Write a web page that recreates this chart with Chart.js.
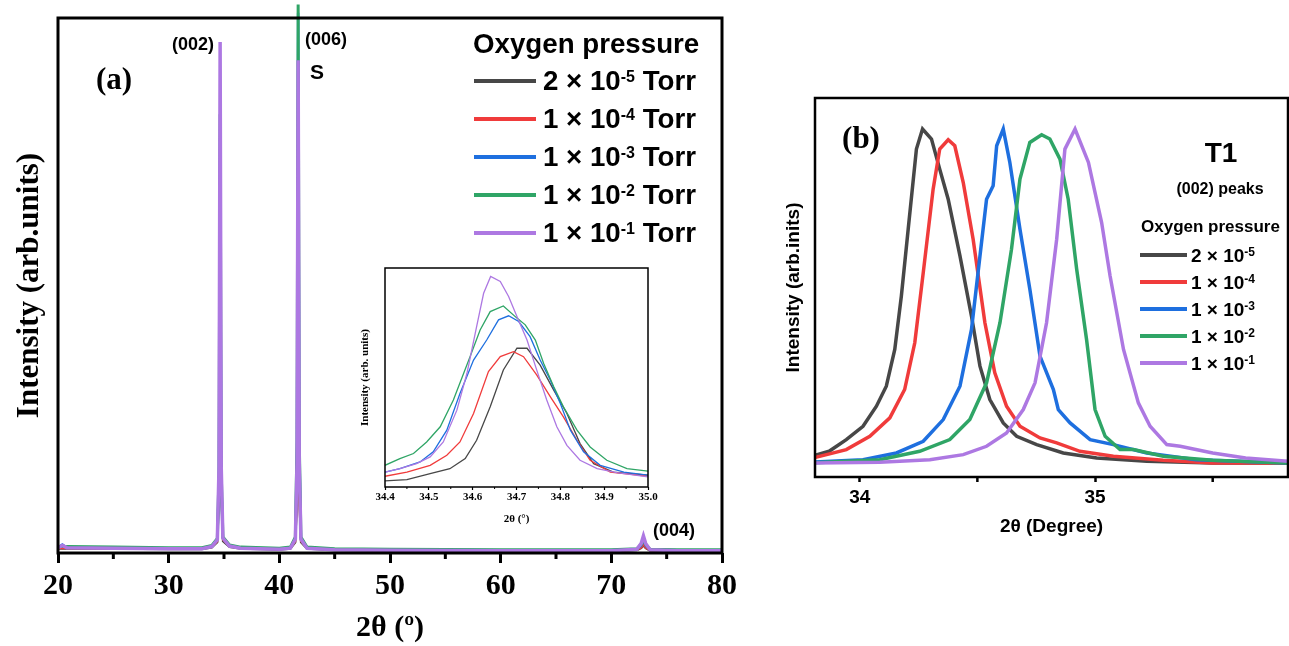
<!DOCTYPE html>
<html><head><meta charset="utf-8">
<script src="https://cdn.jsdelivr.net/npm/chart.js@4.4.1/dist/chart.umd.min.js"></script>
<style>
html,body{margin:0;padding:0;background:#fff;}
body{width:1289px;height:646px;position:relative;overflow:hidden;}
canvas{position:absolute;}
#cA{left:0;top:0;} #cB{left:770px;top:0;} #cI{left:340px;top:255px;}
</style></head><body>
<canvas id="cA" width="770" height="646"></canvas>
<canvas id="cB" width="519" height="646"></canvas>
<canvas id="cI" width="320" height="280"></canvas>
<script>
// ---------- series meta ----------
const seriesNames = ['2 × 10⁻⁵ Torr','1 × 10⁻⁴ Torr','1 × 10⁻³ Torr','1 × 10⁻² Torr','1 × 10⁻¹ Torr'];
const legendBase = ['2 × 10','1 × 10','1 × 10','1 × 10','1 × 10'];
const legendExp = ['-5','-4','-3','-2','-1'];
const colors = ['#474747','#f03b3b','#1e6fdf','#2fa566','#ad78e2'];

// ---------- panel (a): full scan ----------
const xTicksA = [20,30,40,50,60,70,80];
const xMinorA = [25,35,45,55,65,75];
const xA = [20,20.4,20.8,25,30,33,33.9,34.4,34.55,34.65,34.75,34.9,35.5,36.5,40,41.0,41.45,41.6,41.7,41.8,41.95,42.5,45,50,60,70,72.3,72.7,72.9,73.1,73.5,76,80];
const blackA  = [8,8,8,8,7,7,10,20,100,630,110,22,11,8,6,8,20,100,404,100,20,8,5,4,3,3,5,9,14,9,4,3,3];
const redA    = [9,9,9,9,8,8,11,22,120,610,120,25,12,9,7,9,22,100,380,100,22,9,6,5,4,4,6,10,16,10,5,4,4];
const blueA   = [10,16,10,10,9,9,13,25,140,775,140,28,14,10,8,10,28,200,1010,200,28,10,7,6,5,5,7,14,24,14,6,5,5];
const greenA  = [12,12,12,11,10,10,14,27,150,820,150,30,15,11,9,11,30,210,1025,210,30,11,8,7,6,6,8,16,26,16,7,6,6];
const purpleA = [10,14,10,9,8,8,12,25,160,955,160,28,13,9,7,9,26,170,921,170,26,9,6,5,4,4,7,18,32,18,6,4,4];

// ---------- inset: (002) zoom ----------
const xTicksI = [34.4,34.5,34.6,34.7,34.8,34.9,35.0];
const xMinorI = [34.45,34.55,34.65,34.75,34.85,34.95];
const blackIx = [34.4,34.45,34.503,34.548,34.583,34.609,34.64,34.67,34.701,34.724,34.754,34.785,34.815,34.845,34.876,34.921,35.0];
const blackIy = [0.029,0.035,0.063,0.087,0.135,0.222,0.381,0.556,0.659,0.659,0.579,0.46,0.349,0.206,0.111,0.071,0.056];
const redIx = [34.4,34.45,34.503,34.541,34.571,34.602,34.636,34.663,34.693,34.716,34.746,34.777,34.807,34.838,34.868,34.914,34.967,35.0];
const redIy = [0.051,0.071,0.103,0.151,0.214,0.349,0.548,0.619,0.643,0.619,0.532,0.429,0.333,0.222,0.127,0.071,0.059,0.051];
const blueIx = [34.4,34.434,34.48,34.51,34.541,34.571,34.602,34.632,34.659,34.682,34.705,34.731,34.754,34.777,34.8,34.823,34.853,34.891,34.945,35.0];
const blueIy = [0.071,0.087,0.119,0.167,0.27,0.444,0.603,0.698,0.794,0.813,0.786,0.714,0.603,0.508,0.397,0.27,0.167,0.103,0.071,0.056];
const greenIx = [34.4,34.434,34.465,34.495,34.526,34.556,34.594,34.617,34.64,34.67,34.701,34.72,34.743,34.762,34.785,34.807,34.838,34.868,34.906,34.952,35.0];
const greenIy = [0.103,0.135,0.159,0.214,0.286,0.413,0.619,0.746,0.833,0.86,0.802,0.77,0.698,0.587,0.476,0.381,0.27,0.19,0.127,0.087,0.075];
const purpleIx = [34.4,34.434,34.472,34.503,34.533,34.564,34.587,34.609,34.625,34.641,34.663,34.682,34.701,34.724,34.746,34.769,34.792,34.815,34.845,34.884,34.929,35.0];
const purpleIy = [0.071,0.087,0.111,0.143,0.214,0.365,0.54,0.762,0.92,1.0,0.976,0.905,0.81,0.698,0.556,0.413,0.286,0.198,0.127,0.087,0.068,0.048];

// ---------- panel (b): normalised (002) peaks ----------
const xTicksB = [34,35];
const xMinorB = [34.5,35.5];
const blackBx = [33.794,33.87,33.943,34.014,34.071,34.113,34.149,34.177,34.206,34.241,34.267,34.305,34.34,34.376,34.426,34.475,34.511,34.553,34.61,34.667,34.752,34.865,35.007,35.22,35.5,35.82];
const blackBy = [0.02,0.035,0.07,0.11,0.17,0.23,0.34,0.50,0.70,0.94,1.0,0.97,0.88,0.79,0.62,0.44,0.29,0.19,0.12,0.08,0.055,0.03,0.015,0.005,0,0];
const redBx = [33.801,33.943,34.043,34.128,34.191,34.234,34.27,34.312,34.34,34.376,34.404,34.44,34.482,34.532,34.574,34.624,34.681,34.766,34.837,34.936,35.078,35.29,35.5,35.82];
const redBy = [0.015,0.04,0.08,0.135,0.22,0.36,0.57,0.82,0.94,0.968,0.95,0.84,0.67,0.42,0.27,0.17,0.11,0.075,0.06,0.035,0.02,0.008,0,0];
const blueBx = [33.794,34.014,34.156,34.27,34.355,34.426,34.475,34.511,34.539,34.567,34.582,34.61,34.638,34.681,34.723,34.766,34.823,34.844,34.894,34.979,35.078,35.22,35.43,35.82];
const blueBy = [0.002,0.01,0.03,0.065,0.13,0.23,0.40,0.62,0.79,0.83,0.95,1.0,0.90,0.70,0.52,0.32,0.22,0.16,0.12,0.07,0.055,0.03,0.01,0];
const greenBx = [33.794,34.085,34.255,34.383,34.468,34.539,34.596,34.645,34.681,34.723,34.773,34.808,34.851,34.886,34.922,34.964,35.0,35.043,35.106,35.163,35.29,35.5,35.82];
const greenBy = [0,0.01,0.035,0.07,0.13,0.24,0.42,0.64,0.85,0.96,0.983,0.97,0.91,0.79,0.58,0.37,0.16,0.08,0.04,0.04,0.02,0.008,0];
const purpleBx = [33.794,34.085,34.298,34.44,34.539,34.624,34.695,34.745,34.794,34.837,34.872,34.915,34.972,35.028,35.064,35.121,35.184,35.234,35.305,35.362,35.5,35.64,35.82];
const purpleBy = [0,0.002,0.01,0.025,0.05,0.09,0.16,0.24,0.42,0.67,0.94,1.0,0.90,0.72,0.56,0.34,0.18,0.11,0.055,0.05,0.03,0.015,0.005];

// ---------- helpers ----------
const SANS = '"Liberation Sans", Arial, sans-serif';
const SERIF = '"Liberation Serif", "Times New Roman", serif';
Chart.defaults.color = '#000';
Chart.defaults.animation = false;

function pts(xs, ys){ return xs.map((x,i)=>({x:x, y:ys[i]})); }
function makeSets(list, widths, clipTop){
  return list.map((d,i)=>({
    label: seriesNames[i], data: d, borderColor: colors[i], backgroundColor: colors[i],
    borderWidth: widths[i], pointRadius: 0, tension: 0, fill: false,
    order: 4 - i, clip: {left:0, right:0, bottom:0, top: clipTop}
  }));
}
function txt(ctx, s, x, y, font, align, base){
  ctx.save(); ctx.font = font; ctx.fillStyle = '#000';
  ctx.textAlign = align || 'left'; ctx.textBaseline = base || 'alphabetic';
  ctx.fillText(s, x, y); ctx.restore();
}
function supText(ctx, x, y, base, exp, tail, size, supSize, rise){
  ctx.save(); ctx.fillStyle = '#000'; ctx.textAlign = 'left'; ctx.textBaseline = 'alphabetic';
  ctx.font = 'bold ' + size + 'px ' + SANS; ctx.fillText(base, x, y);
  let w = ctx.measureText(base).width;
  ctx.font = 'bold ' + supSize + 'px ' + SANS; ctx.fillText(exp, x + w, y - rise);
  w += ctx.measureText(exp).width;
  if (tail){ ctx.font = 'bold ' + size + 'px ' + SANS; ctx.fillText(tail, x + w, y); }
  ctx.restore();
}
function frame(chart, lw){
  const a = chart.chartArea, ctx = chart.ctx;
  ctx.save(); ctx.strokeStyle = '#000'; ctx.lineWidth = lw;
  ctx.strokeRect(a.left, a.top, a.right - a.left, a.bottom - a.top); ctx.restore();
}
function minorTicks(chart, vals, len, lw){
  const a = chart.chartArea, ctx = chart.ctx, sx = chart.scales.x;
  ctx.save(); ctx.strokeStyle = '#000'; ctx.lineWidth = lw;
  vals.forEach(v=>{ const p = sx.getPixelForValue(v); ctx.beginPath(); ctx.moveTo(p, a.bottom); ctx.lineTo(p, a.bottom + len); ctx.stroke(); });
  ctx.restore();
}
function fixedTicks(vals){ return function(s){ s.ticks = vals.map(v=>({value:v})); }; }

// ---------- chart (a) ----------
new Chart(document.getElementById('cA'), {
  type: 'line',
  data: { datasets: makeSets([pts(xA,blackA), pts(xA,redA), pts(xA,blueA), pts(xA,greenA), pts(xA,purpleA)], [2,2,2.5,3,3.5], 18) },
  options: {
    responsive: false, animation: false, events: [],
    layout: { padding: { left: 0, top: 18, right: 48, bottom: 0 } },
    plugins: { legend: { display: false }, tooltip: { enabled: false } },
    scales: {
      x: { type: 'linear', min: 20, max: 80,
        afterBuildTicks: fixedTicks(xTicksA), afterFit: s=>{ s.height = 93; },
        grid: { display: true, drawOnChartArea: false, drawTicks: true, tickLength: 10, tickWidth: 3, tickColor: '#000' },
        border: { display: false },
        ticks: { autoSkip: false, maxRotation: 0, padding: 5, color: '#000', font: { family: SERIF, size: 30, weight: 'bold' }, callback: v=>String(v) },
        title: { display: true, text: '2θ (º)', color: '#000', font: { family: SERIF, size: 30, weight: 'bold' }, padding: { top: 0, bottom: 0 } }
      },
      y: { type: 'linear', min: 0, max: 1000,
        afterFit: s=>{ s.width = 58; },
        grid: { display: false }, border: { display: false }, ticks: { display: false },
        title: { display: true, text: 'Intensity (arb.units)', color: '#000', font: { family: SERIF, size: 31, weight: 'bold' }, padding: { top: 11, bottom: 0 } }
      }
    }
  },
  plugins: [{ id: 'decoA', afterDraw(chart){
    const ctx = chart.ctx;
    frame(chart, 3);
    minorTicks(chart, xMinorA, 6, 3);
    txt(ctx, '(a)', 114, 81, 'bold 31px ' + SERIF, 'center', 'middle');
    txt(ctx, '(002)', 193, 45, 'bold 18px ' + SANS, 'center', 'middle');
    txt(ctx, '(006)', 326, 40, 'bold 18px ' + SANS, 'center', 'middle');
    txt(ctx, 'S', 317, 73, 'bold 21px ' + SANS, 'center', 'middle');
    txt(ctx, '(004)', 674, 531, 'bold 18px ' + SANS, 'center', 'middle');
    txt(ctx, 'Oxygen pressure', 473, 53, 'bold 27.7px ' + SANS, 'left', 'alphabetic');
    const rows = [81,119,157,195,233];
    rows.forEach((y,i)=>{
      ctx.save(); ctx.strokeStyle = colors[i]; ctx.lineWidth = 4;
      ctx.beginPath(); ctx.moveTo(474, y); ctx.lineTo(536, y); ctx.stroke(); ctx.restore();
      supText(ctx, 543, y + 9, legendBase[i], legendExp[i], ' Torr', 27.7, 16, 8);
    });
  }}]
});

// ---------- inset ----------
new Chart(document.getElementById('cI'), {
  type: 'line',
  data: { datasets: makeSets([pts(blackIx,blackIy), pts(redIx,redIy), pts(blueIx,blueIy), pts(greenIx,greenIy), pts(purpleIx,purpleIy)], [1.3,1.3,1.3,1.3,1.3], 0) },
  options: {
    responsive: false, animation: false, events: [],
    layout: { padding: { left: 0, top: 13, right: 12, bottom: 0 } },
    plugins: { legend: { display: false }, tooltip: { enabled: false } },
    scales: {
      x: { type: 'linear', min: 34.4, max: 35.0,
        afterBuildTicks: fixedTicks(xTicksI), afterFit: s=>{ s.height = 48; },
        grid: { display: true, drawOnChartArea: false, drawTicks: true, tickLength: 3, tickWidth: 1.2, tickColor: '#000' },
        border: { display: false },
        ticks: { autoSkip: false, maxRotation: 0, padding: 0.4, color: '#000', font: { family: SERIF, size: 11, weight: 'bold' }, callback: v=>Number(v).toFixed(1) },
        title: { display: true, text: '2θ (°)', color: '#000', font: { family: SERIF, size: 11, weight: 'bold' }, padding: { top: 0, bottom: 9.4 } }
      },
      y: { type: 'linear', min: 0, max: 1.04,
        afterFit: s=>{ s.width = 45; },
        grid: { display: false }, border: { display: false }, ticks: { display: false },
        title: { display: true, text: 'Intensity (arb. units)', color: '#000', font: { family: SERIF, size: 11, weight: 'bold' }, padding: { top: 18.4, bottom: 0 } }
      }
    }
  },
  plugins: [{ id: 'decoI', beforeDatasetsDraw(chart){
    const a = chart.chartArea, ctx = chart.ctx;
    ctx.save(); ctx.fillStyle = '#fff'; ctx.fillRect(a.left, a.top, a.right - a.left, a.bottom - a.top); ctx.restore();
  }, afterDraw(chart){
    frame(chart, 1.5);
    minorTicks(chart, xMinorI, 2, 1);
  }}]
});

// ---------- chart (b) ----------
new Chart(document.getElementById('cB'), {
  type: 'line',
  data: { datasets: makeSets([pts(blackBx,blackBy), pts(redBx,redBy), pts(blueBx,blueBy), pts(greenBx,greenBy), pts(purpleBx,purpleBy)], [3.5,3.5,3.5,3.5,3.5], 0) },
  options: {
    responsive: false, animation: false, events: [],
    layout: { padding: { left: 0, top: 98, right: 1, bottom: 0 } },
    plugins: { legend: { display: false }, tooltip: { enabled: false } },
    scales: {
      x: { type: 'linear', min: 33.81, max: 35.82,
        afterBuildTicks: fixedTicks(xTicksB), afterFit: s=>{ s.height = 169; },
        grid: { display: true, drawOnChartArea: false, drawTicks: true, tickLength: 5, tickWidth: 2.5, tickColor: '#000' },
        border: { display: false },
        ticks: { autoSkip: false, maxRotation: 0, padding: 4.6, color: '#000', font: { family: SANS, size: 19, weight: 'bold' }, callback: v=>String(v) },
        title: { display: true, text: '2θ (Degree)', color: '#000', font: { family: SANS, size: 19, weight: 'bold' }, padding: { top: 0, bottom: 107.6 } }
      },
      y: { type: 'linear', min: -0.042, max: 1.093,
        afterFit: s=>{ s.width = 45; },
        grid: { display: false }, border: { display: false }, ticks: { display: false },
        title: { display: true, text: 'Intensity (arb.inits)', color: '#000', font: { family: SANS, size: 19, weight: 'bold' }, padding: { top: 12.6, bottom: 0 } }
      }
    }
  },
  plugins: [{ id: 'decoB', afterDraw(chart){
    const ctx = chart.ctx;
    frame(chart, 2.5);
    minorTicks(chart, xMinorB, 5, 2.5);
    txt(ctx, '(b)', 91, 140, 'bold 31px ' + SERIF, 'center', 'middle');
    txt(ctx, 'T1', 451, 162, 'bold 28px ' + SANS, 'center', 'alphabetic');
    txt(ctx, '(002) peaks', 450, 194, 'bold 16px ' + SANS, 'center', 'alphabetic');
    txt(ctx, 'Oxygen pressure', 371, 232, 'bold 17px ' + SANS, 'left', 'alphabetic');
    const rows = [255,282,309,336,363];
    rows.forEach((y,i)=>{
      ctx.save(); ctx.strokeStyle = colors[i]; ctx.lineWidth = 4;
      ctx.beginPath(); ctx.moveTo(370, y); ctx.lineTo(417, y); ctx.stroke(); ctx.restore();
      supText(ctx, 421, y + 7, legendBase[i], legendExp[i], '', 19, 12, 6);
    });
  }}]
});
</script>
</body></html>
